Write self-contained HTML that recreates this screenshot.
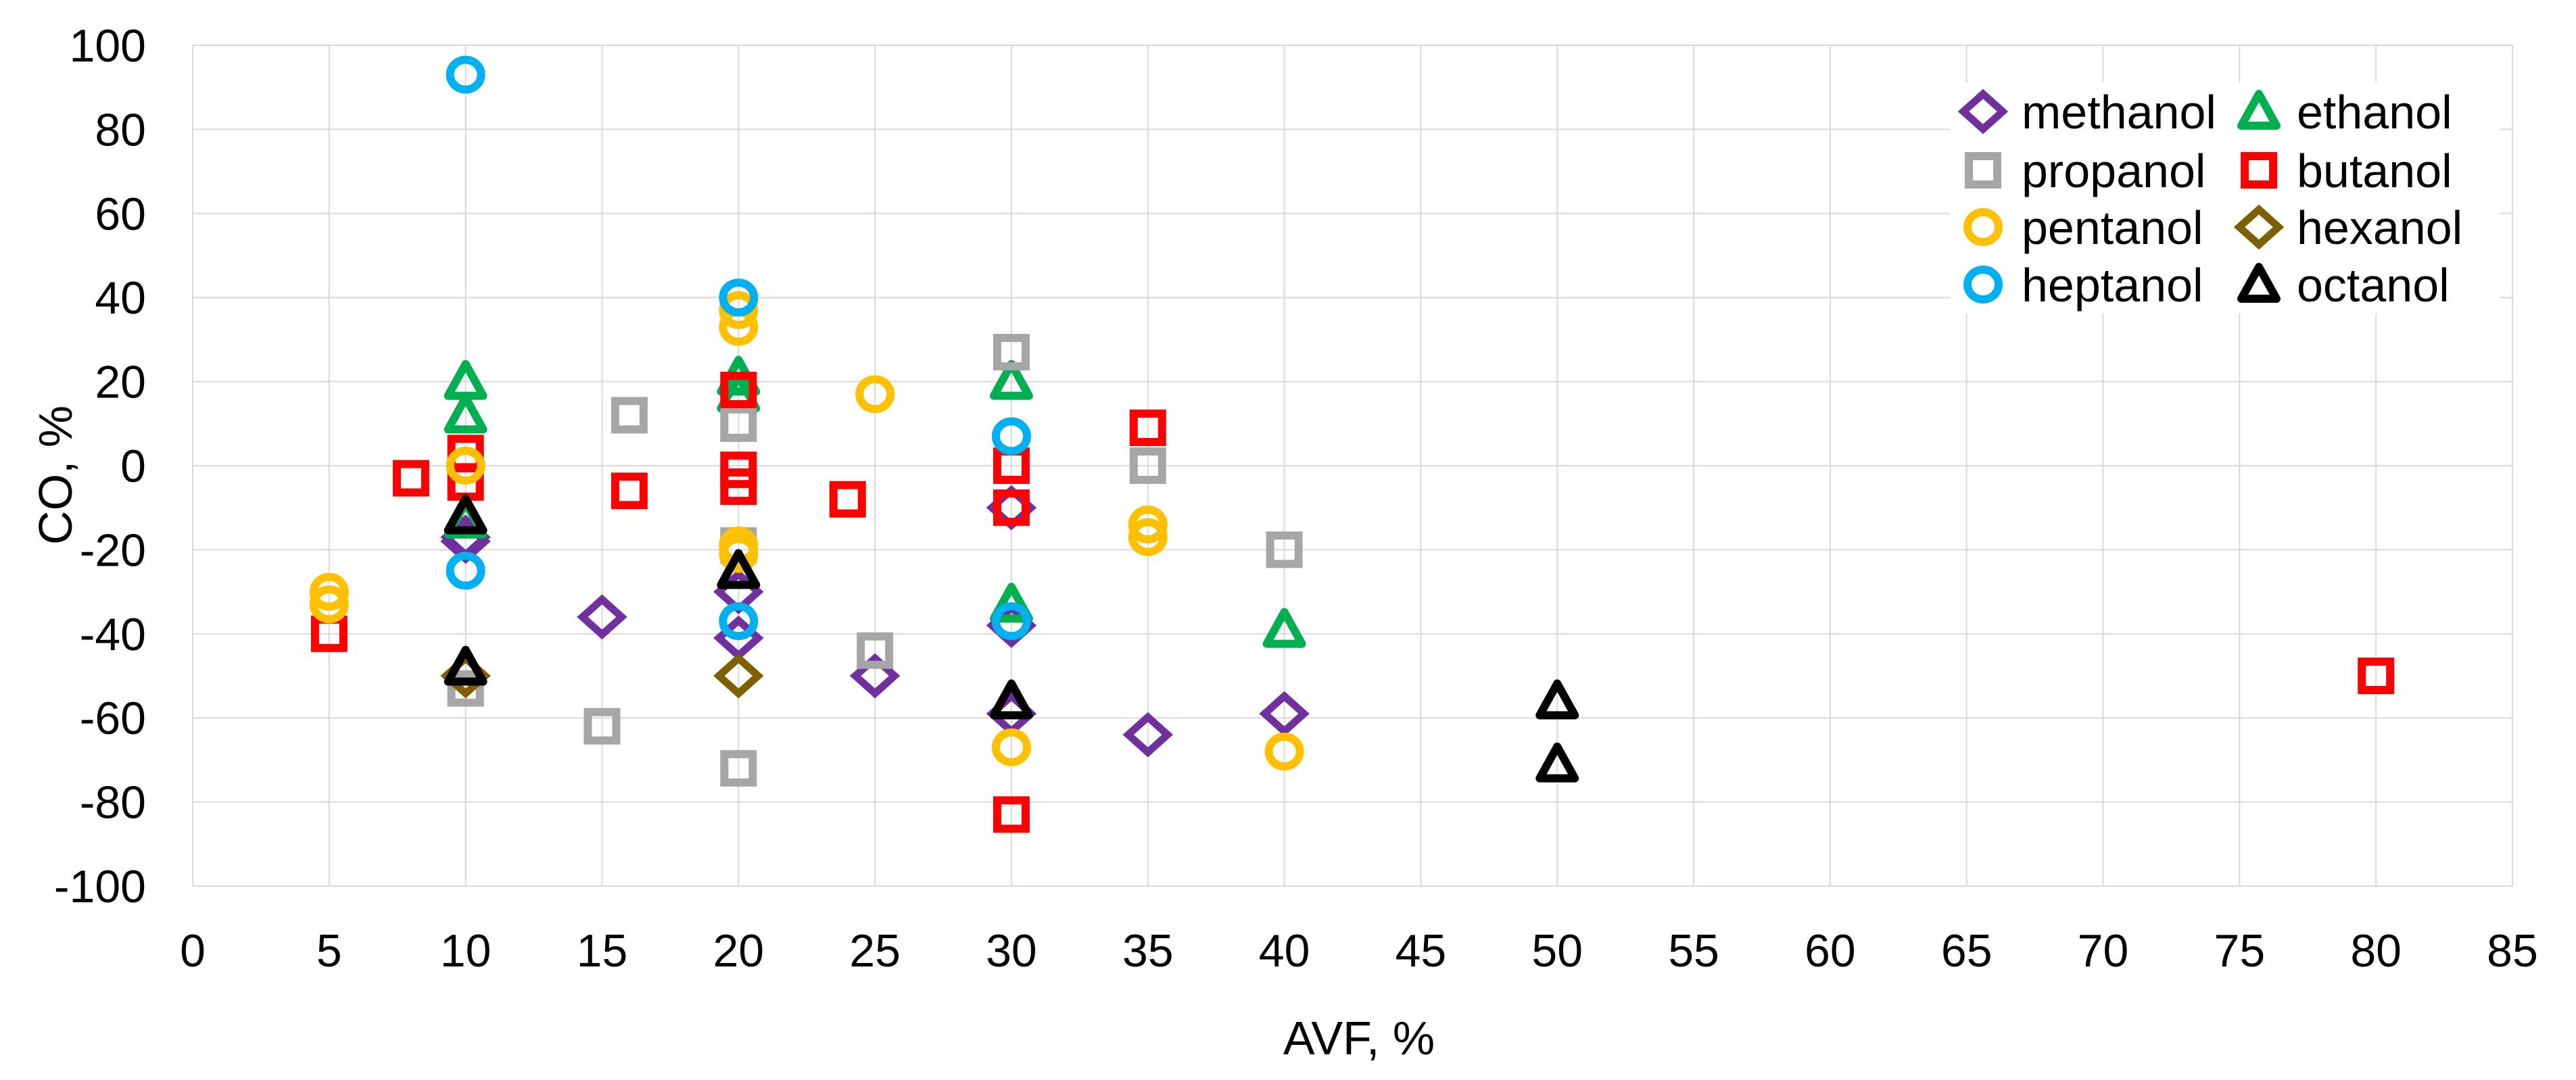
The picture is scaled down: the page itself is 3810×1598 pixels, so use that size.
<!DOCTYPE html>
<html><head><meta charset="utf-8"><style>
html,body{margin:0;padding:0;background:#fff}
svg{display:block;font-family:"Liberation Sans",sans-serif}
</style></head><body>
<svg id="chart" width="3810" height="1598" viewBox="0 0 3810 1598" xmlns="http://www.w3.org/2000/svg">
<g id="grid"></g>
<g id="marks"></g>
<g id="axes"></g>
<text x="2010" y="1560" font-size="70" text-anchor="middle">AVF, %</text>
<text transform="translate(106,703) rotate(-90)" font-size="70" text-anchor="middle">CO, %</text>
<g id="legend"></g>
</svg>
<script>
const xTicks=[0,5,10,15,20,25,30,35,40,45,50,55,60,65,70,75,80,85];
const yTicks=[100,80,60,40,20,0,-20,-40,-60,-80,-100];
const seriesNames=["methanol","ethanol","propanol","butanol","pentanol","hexanol","heptanol","octanol"];
const methanolX=[10,10,15,20,20,25,30,30,30,35,40];
const methanolY=[-17,-18,-36,-30,-41,-50,-10,-38,-59,-64,-59];
const ethanolX=[10,10,10,20,20,20,30,30,40];
const ethanolY=[20,12,-13,21,17,-25,20,-33,-39];
const propanolX=[10,16,15,20,20,20,25,30,35,40];
const propanolY=[-53,12,-62,10,-19,-72,-44,27,0,-20];
const butanolX=[5,8,10,10,16,20,20,20,24,30,30,30,35,80];
const butanolY=[-40,-3,3,-4,-6,18,-1,-5,-8,0,-10,-83,9,-50];
const pentanolX=[5,5,10,20,20,20,20,25,30,35,35,40];
const pentanolY=[-30,-33,0,37,33,-19,-21,17,-67,-14,-17,-68];
const hexanolX=[10,20];
const hexanolY=[-50,-50];
const heptanolX=[10,10,20,20,30,30];
const heptanolY=[93,-25,40,-37,7,-37];
const octanolX=[10,10,20,30,50,50];
const octanolY=[-12,-48,-25,-56,-56,-71];

const NS="http://www.w3.org/2000/svg";
const X0=285,X1=3716,Y0=1311,Y1=67;
const sx=v=>X0+(v-0)/(85-0)*(X1-X0);
const sy=v=>Y0-(v+100)/200*(Y0-Y1);
function mk(tag,attrs,parent){const e=document.createElementNS(NS,tag);for(const k in attrs)e.setAttribute(k,attrs[k]);parent.appendChild(e);return e;}
const grid=document.getElementById('grid'),axes=document.getElementById('axes'),marks=document.getElementById('marks'),legend=document.getElementById('legend');
xTicks.forEach(t=>{
  const l=mk('line',{x1:sx(t),x2:sx(t),y1:Y1,y2:Y0,stroke:'#d9d9d9','stroke-width':2},grid);
  
  
  const tx=mk('text',{x:sx(t),y:1430,'font-size':68,'text-anchor':'middle'},axes);
  tx.textContent=t;
  
  
});
yTicks.forEach(t=>{
  const l=mk('line',{x1:X0,x2:X1,y1:sy(t),y2:sy(t),stroke:'#d9d9d9','stroke-width':2},grid);
  
  
  const tx=mk('text',{x:216,y:sy(t)+24,'font-size':68,'text-anchor':'end'},axes);
  tx.textContent=t;
  
  
});
const styles={
 methanol:{shape:'diamond',color:'#7030a0'},
 ethanol:{shape:'triangle',color:'#00b050'},
 propanol:{shape:'square',color:'#a6a6a6'},
 butanol:{shape:'square',color:'#ff0000'},
 pentanol:{shape:'circle',color:'#ffc000'},
 hexanol:{shape:'diamond',color:'#7f6000'},
 heptanol:{shape:'circle',color:'#00b0f0'},
 octanol:{shape:'triangle',color:'#000000'}
};
function marker(shape,color,cx,cy,parent){
  const sw=12;let e;
  if(shape==='square')e=mk('rect',{x:cx-21,y:cy-21,width:42,height:42,fill:'none',stroke:color,'stroke-width':sw},parent);
  else if(shape==='circle')e=mk('ellipse',{cx:cx,cy:cy,rx:23,ry:22,fill:'none',stroke:color,'stroke-width':sw},parent);
  else if(shape==='diamond')e=mk('polygon',{points:`${cx-29},${cy} ${cx},${cy-26} ${cx+29},${cy} ${cx},${cy+26}`,fill:'none',stroke:color,'stroke-width':sw-1},parent);
  else e=mk('polygon',{points:`${cx},${cy-26} ${cx+26},${cy+21} ${cx-26},${cy+21}`,fill:'none',stroke:color,'stroke-width':sw,'stroke-linejoin':'round'},parent);
  return e;
}
const data={methanol:[methanolX,methanolY],ethanol:[ethanolX,ethanolY],propanol:[propanolX,propanolY],butanol:[butanolX,butanolY],pentanol:[pentanolX,pentanolY],hexanol:[hexanolX,hexanolY],heptanol:[heptanolX,heptanolY],octanol:[octanolX,octanolY]};
seriesNames.forEach(n=>{
  const [xs,ys]=data[n];const st=styles[n];
  const g=mk('g',{},marks);
  
  
  xs.forEach((x,i)=>{
    const e=marker(st.shape,st.color,sx(x),sy(ys[i]),g);
    
    
  });
});
const lb=mk('rect',{x:2884,y:122,width:814,height:342,fill:'#fff'},legend);


const legOrder=["methanol","ethanol","propanol","butanol","pentanol","hexanol","heptanol","octanol"];
const rowsY=[165,252,336,421];
legOrder.forEach((n,i)=>{
  const col=i%2,row=Math.floor(i/2);
  const mx=col?3341:2933,tx=col?3397:2990,y=rowsY[row];
  const g=mk('g',{},legend);
  
  
  const st=styles[n];
  const m=marker(st.shape,st.color,mx,y,g);
  
  
  const t=mk('text',{x:tx,y:y+25,'font-size':70},g);
  t.textContent=n;
  
  
});
</script>
</body></html>
